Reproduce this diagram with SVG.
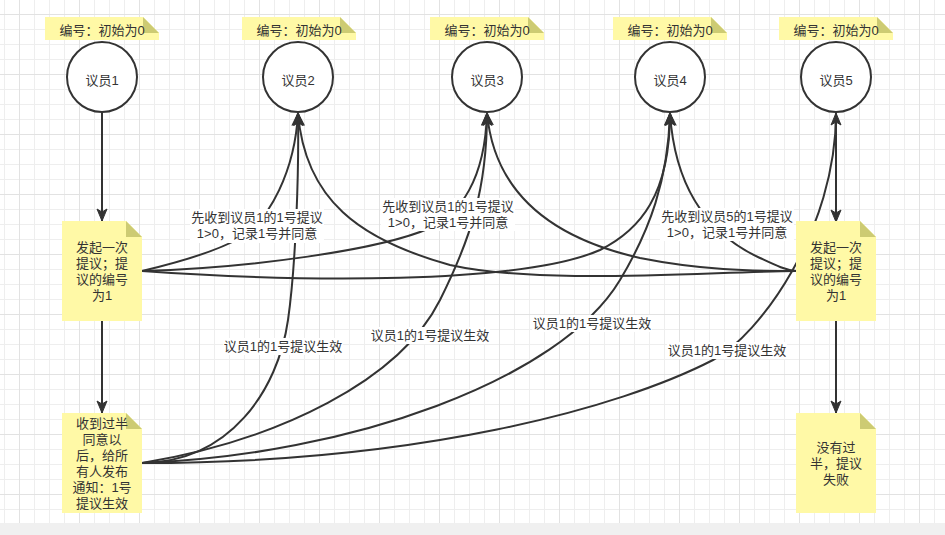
<svg xmlns="http://www.w3.org/2000/svg" width="945" height="535" viewBox="0 0 945 535">
<style>
.t{font-family:"Liberation Sans","Noto Sans CJK SC",sans-serif;font-size:13px;fill:#333;text-anchor:middle}
.e{fill:none;stroke:#333;stroke-width:2;marker-end:url(#arr)}
.nb{fill:#fff9a6}
.nf{fill:#cdcb73}
.c{fill:#fff;stroke:#333;stroke-width:2}
.lb{fill:#fff}
</style>
<defs>
<pattern id="grid" x="19" y="14" width="60" height="60" patternUnits="userSpaceOnUse">
<path d="M15.5,0V60M30.5,0V60M45.5,0V60M0,15.5H60M0,30.5H60M0,45.5H60" stroke="#eeeeee" stroke-width="1" fill="none"/>
<path d="M0.5,0V60M0,0.5H60" stroke="#e2e2e2" stroke-width="1" fill="none"/>
</pattern>
<marker id="arr" viewBox="-13 -6 14 12" refX="0" refY="0" markerWidth="14" markerHeight="12" markerUnits="userSpaceOnUse" orient="auto">
<path d="M0,0 L-12,-5 L-9,0 L-12,5 Z" fill="#333" stroke="#333" stroke-width="1" stroke-linejoin="miter"/>
</marker>
</defs>
<rect x="0" y="0" width="945" height="535" fill="#fff"/>
<rect x="0" y="0" width="945" height="523" fill="url(#grid)"/>
<rect x="0" y="523" width="945" height="12" fill="#f0f0f0"/>

<g id="connectors">
<path class="e" d="M102,112 L102,221"/>
<path class="e" d="M102,321 L102,413"/>
<path class="e" d="M836,112 L836,222"/>
<path class="e" d="M836,321 L836,413"/>
<path class="e" d="M142,271 C180,262 215,252 240,238 C270,220 295,170 298,113"/>
<path class="e" d="M142,271 C250,268 380,250 430,228 C460,214 485,180 487,113"/>
<path class="e" d="M142,271 C300,282 520,285 600,250 C640,230 670,195 670,113"/>
<path class="e" d="M796,271 C700,272 540,285 450,265 C360,240 305,200 298,113"/>
<path class="e" d="M796,271 C750,271 700,270 640,258 C560,240 495,200 487,113"/>
<path class="e" d="M796,271 C785,270 775,265 760,258 C710,235 675,190 670,113"/>
<path class="e" d="M142,463 C230,462 278,390 288,320 C296,264 299,170 298,113"/>
<path class="e" d="M142,463 C280,440 400,380 440,300 C470,240 487,190 487,113"/>
<path class="e" d="M142,463 C350,455 560,380 620,280 C650,230 668,180 670,113"/>
<path class="e" d="M142,463 C420,463 620,408 713,360 C760,335 836,230 836,113"/>
<g id="labels">
<rect class="lb" x="190" y="209" width="134" height="34"/>
<text class="t" x="257" y="222.3">先收到议员1的1号提议</text>
<text class="t" x="257" y="238.3">1&gt;0，记录1号并同意</text>
<rect class="lb" x="381" y="198" width="134" height="33"/>
<text class="t" x="448" y="210.8">先收到议员1的1号提议</text>
<text class="t" x="448" y="226.8">1&gt;0，记录1号并同意</text>
<rect class="lb" x="660" y="208" width="134" height="33"/>
<text class="t" x="727" y="220.8">先收到议员5的1号提议</text>
<text class="t" x="727" y="236.8">1&gt;0，记录1号并同意</text>
<rect class="lb" x="223" y="338" width="120" height="17"/>
<text class="t" x="283" y="351">议员1的1号提议生效</text>
<rect class="lb" x="370" y="327" width="120" height="17"/>
<text class="t" x="430" y="340">议员1的1号提议生效</text>
<rect class="lb" x="532" y="315" width="120" height="17"/>
<text class="t" x="592" y="328">议员1的1号提议生效</text>
<rect class="lb" x="667" y="342" width="120" height="17"/>
<text class="t" x="727" y="355">议员1的1号提议生效</text>
</g>
</g>

<g id="tag1"><path class="nb" d="M45,17H143L159,33V40H45Z"/><path class="nf" d="M143,17L159,33H143Z"/><text class="t" x="102" y="34.5">编号：初始为0</text></g>
<g id="tag2"><path class="nb" d="M242,17H340L356,33V40H242Z"/><path class="nf" d="M340,17L356,33H340Z"/><text class="t" x="299" y="34.5">编号：初始为0</text></g>
<g id="tag3"><path class="nb" d="M430,17H528L544,33V40H430Z"/><path class="nf" d="M528,17L544,33H528Z"/><text class="t" x="487" y="34.5">编号：初始为0</text></g>
<g id="tag4"><path class="nb" d="M613,17H711L727,33V40H613Z"/><path class="nf" d="M711,17L727,33H711Z"/><text class="t" x="670" y="34.5">编号：初始为0</text></g>
<g id="tag5"><path class="nb" d="M779,17H877L893,33V40H779Z"/><path class="nf" d="M877,17L893,33H877Z"/><text class="t" x="836" y="34.5">编号：初始为0</text></g>

<g id="m1"><circle class="c" cx="102" cy="77" r="35"/><text class="t" x="102" y="84.5">议员1</text></g>
<g id="m2"><circle class="c" cx="298" cy="77" r="35"/><text class="t" x="298" y="84.5">议员2</text></g>
<g id="m3"><circle class="c" cx="487" cy="77" r="35"/><text class="t" x="487" y="84.5">议员3</text></g>
<g id="m4"><circle class="c" cx="670" cy="77" r="35"/><text class="t" x="670" y="84.5">议员4</text></g>
<g id="m5"><circle class="c" cx="836" cy="77" r="35"/><text class="t" x="836" y="84.5">议员5</text></g>

<g id="note1"><path class="nb" d="M62,221H126L142,237V321H62Z"/><path class="nf" d="M126,221L142,237H126Z"/>
<text class="t" x="102" y="251.5">发起一次</text><text class="t" x="102" y="267.5">提议；提</text><text class="t" x="102" y="283.5">议的编号</text><text class="t" x="102" y="299.5">为1</text></g>
<g id="note2"><path class="nb" d="M62,413H126L142,429V513H62Z"/><path class="nf" d="M126,413L142,429H126Z"/>
<text class="t" x="102" y="427.5">收到过半</text><text class="t" x="102" y="443.5">同意以</text><text class="t" x="102" y="459.5">后，给所</text><text class="t" x="102" y="475.5">有人发布</text><text class="t" x="102" y="491.5">通知：1号</text><text class="t" x="102" y="507.5">提议生效</text></g>
<g id="note3"><path class="nb" d="M796,221H860L876,237V321H796Z"/><path class="nf" d="M860,221L876,237H860Z"/>
<text class="t" x="836" y="251.5">发起一次</text><text class="t" x="836" y="267.5">提议；提</text><text class="t" x="836" y="283.5">议的编号</text><text class="t" x="836" y="299.5">为1</text></g>
<g id="note4"><path class="nb" d="M796,413H860L876,429V513H796Z"/><path class="nf" d="M860,413L876,429H860Z"/>
<text class="t" x="836" y="451.5">没有过</text><text class="t" x="836" y="467.5">半，提议</text><text class="t" x="836" y="483.5">失败</text></g>
</svg>
